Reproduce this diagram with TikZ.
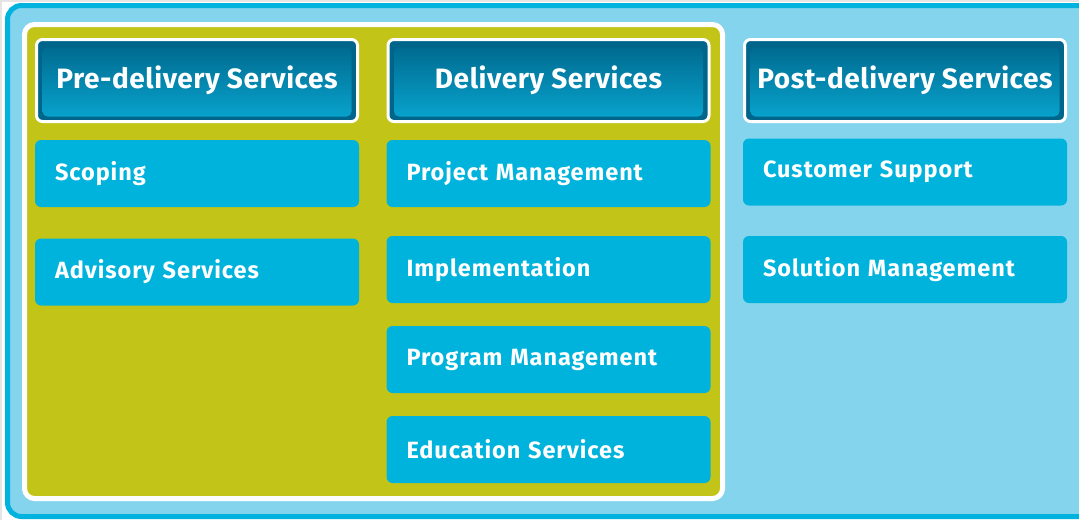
\documentclass[tikz,border=0pt]{standalone}
\usepackage{fontspec}
\setmainfont{Fira Sans}
\usepackage{tikz}

\definecolor{frameblue}{HTML}{00B2DE}
\definecolor{skyfill}{HTML}{84D4ED}
\definecolor{olive}{HTML}{C3C418}
\definecolor{itemblue}{HTML}{00B3DC}
\definecolor{hdrdark}{HTML}{00658A}
\definecolor{hdrlight}{HTML}{08A6D0}

\tikzset{
    header/.style={draw=white, line width=3pt, fill=hdrdark, rounded corners=6pt,
        minimum width=321pt, minimum height=82pt, text=white,
        font=\fontsize{28}{32}\selectfont\bfseries\addfontfeature{LetterSpace=2},
        path picture={\fill[top color=hdrdark, bottom color=hdrlight, rounded corners=5pt]
            ([xshift=6pt,yshift=5pt]path picture bounding box.south west) rectangle
            ([xshift=-6pt,yshift=-8pt]path picture bounding box.north east);}},
    item/.style={fill=itemblue, rounded corners=6pt, text=white,
        inner xsep=20pt, text width=284pt, minimum height=67pt, align=left,
        font=\fontsize{23.5}{28}\selectfont\bfseries\addfontfeature{LetterSpace=4}}
}

\begin{document}
\begin{tikzpicture}[x=1pt, y=-1pt]
    \useasboundingbox (0,0) rectangle (1079,520);
    \clip (0,0) rectangle (1079,520);

    % background frames
    \fill[black!10] (0,0) rectangle (1079,520);
    \fill[white] (2,2) rectangle (1079,520);
    \draw[frameblue, fill=skyfill, line width=5pt, rounded corners=14pt] (7.5,5.5) rectangle (1095,516.5);
    \draw[white, fill=olive, line width=5pt, rounded corners=10pt] (24.5,24.5) rectangle (722.5,498.5);

    % column headers
    \node[header] (pre) at (197,80.5) {Pre-delivery Services};
    \node[header] (del) at (548.5,80.5) {Delivery Services};
    \node[header] (post) at (905,80.5) {Post-delivery Services};

    % pre-delivery
    \node[item] (scoping) at (197,173.5) {Scoping};
    \node[item] (advisory) at (197,272) {Advisory Services};

    % delivery
    \node[item] (project) at (548.5,173.5) {Project Management};
    \node[item] (implement) at (548.5,269.5) {Implementation};
    \node[item] (program) at (548.5,359.5) {Program Management};
    \node[item] (education) at (548.5,449.5) {Education Services};

    % post-delivery
    \node[item] (support) at (905,172) {Customer Support};
    \node[item] (solution) at (905,269.5) {Solution Management};
\end{tikzpicture}
\end{document}
